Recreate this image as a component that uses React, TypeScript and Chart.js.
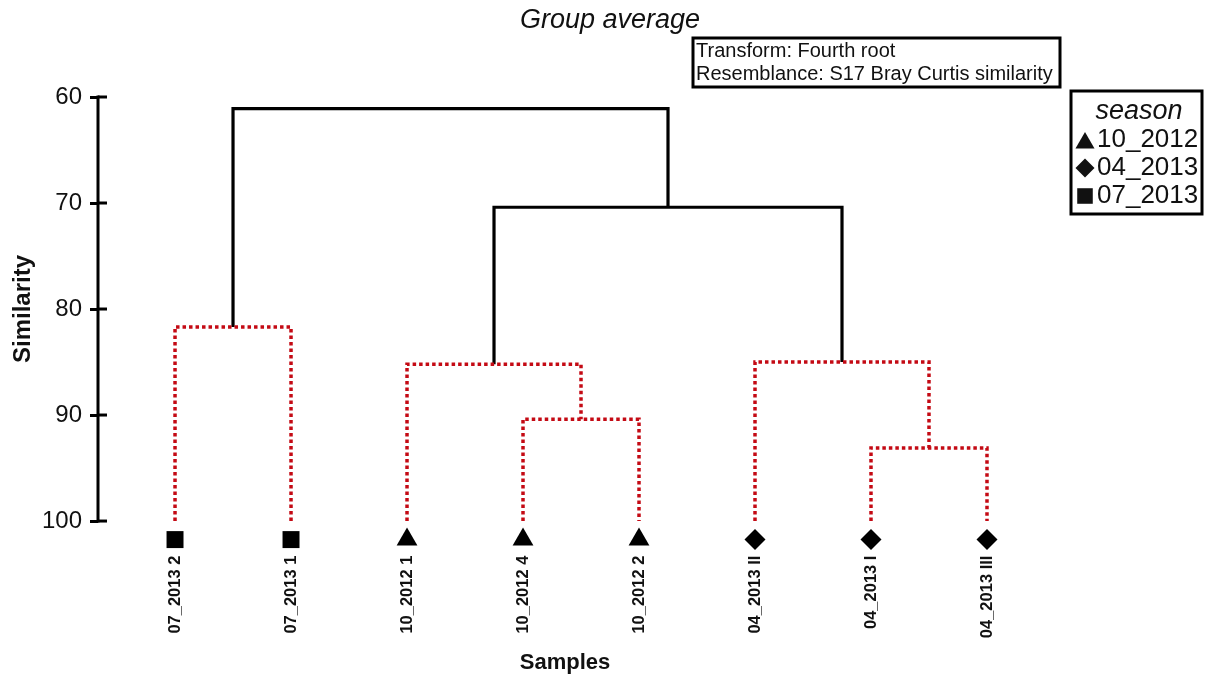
import { useEffect, useRef } from 'react';
import { Chart, registerables } from 'chart.js';
import type { Plugin } from 'chart.js';

Chart.register(...registerables);

const FONT = "'Liberation Sans', Arial, Helvetica, sans-serif";
const INK = '#111';
const RED = '#c40a14';

// leaves in dendrogram order
const leafLabels = ['07_2013 2', '07_2013 1', '10_2012 1', '10_2012 4', '10_2012 2', '04_2013 II', '04_2013 I', '04_2013 III'];
const leafSeasons = ['07_2013', '07_2013', '10_2012', '10_2012', '10_2012', '04_2013', '04_2013', '04_2013'];

// merges: node ids 0..7 are leaves, merge k gets id 8 + k
const mergeLeft = [0, 3, 2, 6, 5, 10, 8];
const mergeRight = [1, 4, 9, 7, 11, 12, 13];
const mergeSimilarity = [81.7, 90.4, 85.2, 93.1, 85.0, 70.4, 61.1];
const mergeSolid = [false, false, false, false, false, true, true];

const seasonNames = ['10_2012', '04_2013', '07_2013'];
const seasonMarkers = ['triangle', 'rectRot', 'rect'] as const;
const seasonRadius = [12, 10.5, 12];

const yTicks = [60, 70, 80, 90, 100];
const yMin = 60;
const yMax = 100;
const markerLevel = 101.75;

const chartTitle = 'Group average';
const yTitle = 'Similarity';
const xTitle = 'Samples';
const noteLines = ['Transform: Fourth root', 'Resemblance: S17 Bray Curtis similarity'];
const legendTitle = 'season';

function buildTree() {
  const nodeX: number[] = leafLabels.map((_, i) => i);
  const nodeY: number[] = leafLabels.map(() => 100);
  const segments: { pts: { x: number; y: number }[]; solid: boolean }[] = [];
  mergeSimilarity.forEach((h, k) => {
    const l = mergeLeft[k];
    const r = mergeRight[k];
    segments.push({
      pts: [
        { x: nodeX[l], y: nodeY[l] },
        { x: nodeX[l], y: h },
        { x: nodeX[r], y: h },
        { x: nodeX[r], y: nodeY[r] },
      ],
      solid: mergeSolid[k],
    });
    nodeX.push((nodeX[l] + nodeX[r]) / 2);
    nodeY.push(h);
  });
  return segments;
}

function drawMarker(ctx: CanvasRenderingContext2D, style: string, x: number, y: number, r: number) {
  ctx.beginPath();
  if (style === 'triangle') {
    ctx.moveTo(x, y - r);
    ctx.lineTo(x + r * 0.866, y + r / 2);
    ctx.lineTo(x - r * 0.866, y + r / 2);
  } else if (style === 'rectRot') {
    ctx.moveTo(x - r, y);
    ctx.lineTo(x, y - r);
    ctx.lineTo(x + r, y);
    ctx.lineTo(x, y + r);
  } else {
    const s = r * Math.SQRT1_2;
    ctx.rect(x - s, y - s, 2 * s, 2 * s);
  }
  ctx.closePath();
  ctx.fill();
}

const decorations: Plugin = {
  id: 'decorations',
  afterDraw(chart) {
    const { ctx, chartArea } = chart;
    const yScale = chart.scales.y;
    ctx.save();
    ctx.fillStyle = INK;
    ctx.strokeStyle = '#000';

    // y axis line, only over the 60..100 range
    ctx.lineWidth = 3;
    ctx.lineCap = 'butt';
    ctx.beginPath();
    ctx.moveTo(chartArea.left, yScale.getPixelForValue(yMin) - 1.5);
    ctx.lineTo(chartArea.left, yScale.getPixelForValue(yMax) + 1.5);
    ctx.stroke();

    // inner half of the y tick marks
    yTicks.forEach(v => {
      const py = yScale.getPixelForValue(v);
      ctx.beginPath();
      ctx.moveTo(chartArea.left, py);
      ctx.lineTo(chartArea.left + 9, py);
      ctx.stroke();
    });

    // y axis title, centred on the 60..100 span
    ctx.save();
    ctx.translate(23, yScale.getPixelForValue((yMin + yMax) / 2));
    ctx.rotate(-Math.PI / 2);
    ctx.font = `bold 24px ${FONT}`;
    ctx.textAlign = 'center';
    ctx.textBaseline = 'middle';
    ctx.fillText(yTitle, 0, 0);
    ctx.restore();

    // title
    ctx.font = `italic 27px ${FONT}`;
    ctx.textAlign = 'center';
    ctx.textBaseline = 'middle';
    ctx.fillText(chartTitle, 610, 20);

    // transform / resemblance note
    ctx.lineWidth = 3;
    ctx.strokeRect(693, 38, 367, 49);
    ctx.font = `20px ${FONT}`;
    ctx.textAlign = 'left';
    noteLines.forEach((t, i) => ctx.fillText(t, 696, 51 + i * 23));

    // season legend
    ctx.strokeRect(1071, 91, 131, 123);
    ctx.font = `italic 27px ${FONT}`;
    ctx.textAlign = 'center';
    ctx.fillText(legendTitle, 1139, 111);
    ctx.font = `26px ${FONT}`;
    ctx.textAlign = 'left';
    seasonNames.forEach((name, i) => {
      const cy = 140 + i * 28;
      drawMarker(ctx, seasonMarkers[i], 1085, i === 0 ? cy + 3 : cy, i === 0 ? 11 : i === 1 ? 9.5 : 11);
      ctx.fillText(name, 1097, cy);
    });
    ctx.restore();
  },
};

export default function App() {
  const canvasRef = useRef<HTMLCanvasElement>(null);
  const chartRef = useRef<Chart | null>(null);

  useEffect(() => {
    if (!canvasRef.current) return;
    const segments = buildTree();
    const lineSets = segments.map(s => ({
      type: 'scatter' as const,
      data: s.pts,
      showLine: true,
      borderColor: s.solid ? '#000' : RED,
      borderWidth: s.solid ? 3.2 : 3.5,
      borderDash: s.solid ? [] : [3.5, 3],
      borderCapStyle: 'butt' as const,
      borderJoinStyle: 'miter' as const,
      pointRadius: 0,
      clip: false as const,
    }));
    const markerSets = seasonNames.map((name, si) => ({
      type: 'scatter' as const,
      data: leafSeasons
        .map((s, i) => ({ s, x: i, y: markerLevel }))
        .filter(p => p.s === name)
        .map(p => ({ x: p.x, y: p.y })),
      pointStyle: seasonMarkers[si],
      pointRadius: seasonRadius[si],
      backgroundColor: '#000',
      borderColor: '#000',
      borderWidth: 0,
      showLine: false,
      clip: false as const,
    }));

    chartRef.current?.destroy();
    chartRef.current = new Chart(canvasRef.current, {
      type: 'scatter',
      data: { datasets: [...lineSets, ...markerSets] as any },
      plugins: [decorations],
      options: {
        animation: false,
        responsive: false,
        devicePixelRatio: 1,
        layout: { padding: { top: 97, right: 180, bottom: 0, left: 0 } },
        plugins: {
          legend: { display: false },
          tooltip: { enabled: false },
          title: { display: false },
        },
        scales: {
          x: {
            type: 'linear',
            min: -0.664,
            max: 7.388,
            afterBuildTicks: (s: any) => { s.ticks = leafLabels.map((_, i) => ({ value: i })); },
            afterFit: (s: any) => { s.height = 133.4; },
            ticks: {
              autoSkip: false,
              minRotation: 90,
              maxRotation: 90,
              padding: 7,
              color: INK,
              font: { family: FONT, size: 16.5, weight: 'bold' },
              callback: (_v: any, i: number) => leafLabels[i],
            },
            grid: { display: false, drawTicks: false },
            border: { display: false },
            title: {
              display: true,
              text: xTitle,
              color: INK,
              font: { family: FONT, size: 22, weight: 'bold' },
              padding: { top: 6, bottom: 6 },
            },
          },
          y: {
            type: 'linear',
            reverse: true,
            min: yMin,
            max: 102.6,
            afterBuildTicks: (s: any) => { s.ticks = yTicks.map(v => ({ value: v })); },
            afterFit: (s: any) => { s.width = 98; },
            ticks: {
              padding: 8,
              color: INK,
              font: { family: FONT, size: 24 },
            },
            grid: { drawOnChartArea: false, tickLength: 8, lineWidth: 3, color: '#000' },
            border: { display: false },
            title: { display: false },
          },
        },
      },
    });
    return () => {
      chartRef.current?.destroy();
      chartRef.current = null;
    };
  }, []);

  return (
    <div style={{ position: 'absolute', left: 0, top: 0, width: 1212, height: 682, background: '#fff' }}>
      <canvas ref={canvasRef} width={1212} height={682} />
    </div>
  );
}
